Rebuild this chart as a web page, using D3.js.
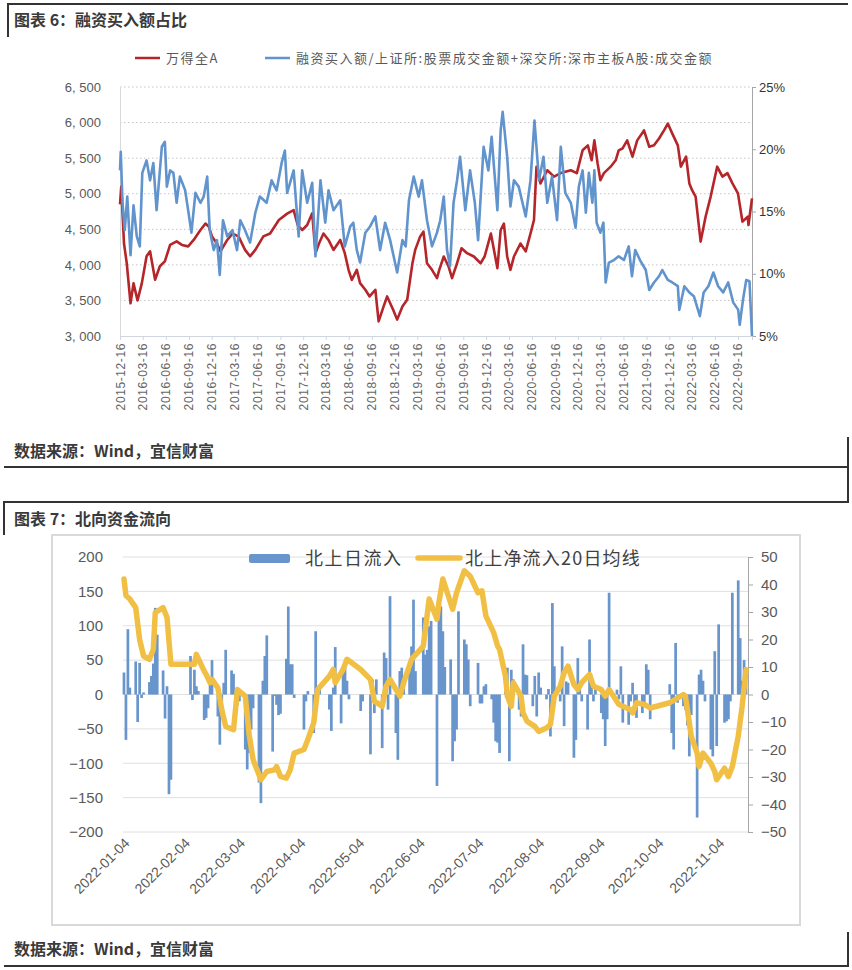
<!DOCTYPE html>
<html>
<head>
<meta charset="utf-8">
<script src="https://d3js.org/d3.v7.min.js"></script>
<style>
  body { margin: 0; background: #fff; }
  text { font-family: "Liberation Sans", "Noto Sans", sans-serif; }
  .cjk { font-family: "Noto Sans CJK SC", sans-serif; }
</style>
</head>
<body>
<svg id="chart" width="852" height="970"></svg>
<script>
/* globals d3: true */
(function() {
  'use strict';

  // ---------- 图表6 data ----------
  const wdaSeries = [
    ['2015-12-16', 4850], ['2015-12-21', 5100], ['2016-01-01', 4300], ['2016-01-12', 4020],
    ['2016-01-27', 3460], ['2016-02-08', 3740], ['2016-02-24', 3500], ['2016-03-12', 3740],
    ['2016-03-31', 4120], ['2016-04-14', 4190], ['2016-05-04', 3790], ['2016-05-23', 3980],
    ['2016-06-12', 4050], ['2016-07-03', 4280], ['2016-07-29', 4330], ['2016-08-19', 4280],
    ['2016-09-13', 4260], ['2016-10-05', 4350], ['2016-11-01', 4490], ['2016-11-21', 4580],
    ['2016-12-04', 4540], ['2016-12-17', 4400], ['2017-01-06', 4300], ['2017-01-20', 4190],
    ['2017-02-16', 4350], ['2017-03-09', 4440], ['2017-04-02', 4400], ['2017-04-28', 4210],
    ['2017-05-18', 4120], ['2017-06-08', 4210], ['2017-07-10', 4400], ['2017-08-06', 4440],
    ['2017-09-10', 4630], ['2017-10-13', 4720], ['2017-11-08', 4770], ['2017-11-24', 4560],
    ['2017-12-12', 4490], ['2018-01-01', 4560], ['2018-01-21', 4724], ['2018-02-03', 4164],
    ['2018-02-17', 4300], ['2018-03-07', 4440], ['2018-03-27', 4350], ['2018-04-16', 4210],
    ['2018-05-13', 4350], ['2018-05-31', 4164], ['2018-06-15', 3930], ['2018-06-28', 3790],
    ['2018-07-18', 3930], ['2018-07-31', 3743], ['2018-08-21', 3650], ['2018-09-07', 3556],
    ['2018-09-30', 3650], ['2018-10-13', 3205], ['2018-11-02', 3416], ['2018-11-16', 3556],
    ['2018-12-10', 3370], ['2018-12-26', 3230], ['2019-01-16', 3416], ['2019-02-04', 3510],
    ['2019-02-25', 4023], ['2019-03-08', 4210], ['2019-03-28', 4400], ['2019-04-10', 4467],
    ['2019-04-24', 4023], ['2019-05-14', 3930], ['2019-06-03', 3813], ['2019-06-12', 3930],
    ['2019-06-30', 4117], ['2019-07-19', 3977], ['2019-08-02', 3813], ['2019-08-22', 4023],
    ['2019-09-09', 4234], ['2019-10-01', 4164], ['2019-10-28', 4117], ['2019-11-24', 4023],
    ['2019-12-10', 4117], ['2020-01-04', 4440], ['2020-01-30', 3953], ['2020-02-12', 4490],
    ['2020-02-25', 4580], ['2020-03-09', 4117], ['2020-03-22', 3930], ['2020-04-05', 4117],
    ['2020-05-01', 4300], ['2020-05-22', 4190], ['2020-06-10', 4440], ['2020-06-24', 4630],
    ['2020-07-04', 5379], ['2020-07-20', 5145], ['2020-08-16', 5330], ['2020-09-12', 5240],
    ['2020-10-09', 5290], ['2020-11-18', 5330], ['2020-12-12', 5290], ['2021-01-04', 5610],
    ['2021-01-25', 5680], ['2021-02-09', 5470], ['2021-02-20', 5750], ['2021-03-05', 5425],
    ['2021-03-16', 5190], ['2021-03-30', 5290], ['2021-04-26', 5380], ['2021-05-16', 5470],
    ['2021-05-28', 5610], ['2021-06-12', 5635], ['2021-07-01', 5750], ['2021-07-22', 5520],
    ['2021-08-10', 5750], ['2021-09-06', 5890], ['2021-09-27', 5660], ['2021-10-16', 5680],
    ['2021-11-05', 5776], ['2021-11-25', 5890], ['2021-12-10', 5986], ['2021-12-28', 5845],
    ['2022-01-19', 5680], ['2022-01-31', 5380], ['2022-02-21', 5520], ['2022-03-06', 5145],
    ['2022-03-17', 5050], ['2022-03-31', 4960], ['2022-04-20', 4327], ['2022-05-10', 4680],
    ['2022-05-30', 4960], ['2022-06-25', 5380], ['2022-07-16', 5240], ['2022-08-05', 5290],
    ['2022-08-25', 5145], ['2022-09-16', 5005], ['2022-10-04', 4607], ['2022-10-25', 4677],
    ['2022-10-28', 4560], ['2022-11-11', 4935],
  ];

  // 融资买入额 / 成交金额, %
  const marginRatio = [
    ['2015-12-16', 18.3], ['2015-12-19', 19.8], ['2015-12-26', 15.7], ['2016-01-04', 13.5],
    ['2016-01-14', 16.2], ['2016-01-27', 11.5], ['2016-02-08', 15.5], ['2016-02-21', 13.0],
    ['2016-03-04', 12.2], ['2016-03-14', 18.1], ['2016-03-31', 19.1], ['2016-04-14', 17.5],
    ['2016-04-27', 18.9], ['2016-05-10', 15.1], ['2016-05-31', 20.2], ['2016-06-12', 20.6],
    ['2016-06-20', 17.0], ['2016-07-03', 18.3], ['2016-07-16', 18.1], ['2016-07-29', 15.7],
    ['2016-08-11', 17.8], ['2016-09-01', 16.7], ['2016-09-13', 15.1], ['2016-09-26', 13.3],
    ['2016-10-12', 16.5], ['2016-11-01', 15.7], ['2016-11-14', 16.2], ['2016-11-28', 17.8],
    ['2016-12-08', 13.5], ['2016-12-24', 11.9], ['2017-01-06', 12.7], ['2017-01-17', 9.9],
    ['2017-01-30', 14.3], ['2017-02-16', 13.0], ['2017-03-09', 13.5], ['2017-03-27', 11.9],
    ['2017-04-09', 14.3], ['2017-04-28', 13.5], ['2017-05-18', 12.5], ['2017-06-08', 14.9],
    ['2017-06-26', 16.2], ['2017-07-23', 15.7], ['2017-08-12', 17.5], ['2017-09-01', 16.7],
    ['2017-09-21', 18.9], ['2017-10-04', 19.9], ['2017-10-13', 16.5], ['2017-11-08', 18.3],
    ['2017-11-28', 13.0], ['2017-12-12', 18.3], ['2018-01-01', 15.7], ['2018-01-21', 17.3],
    ['2018-02-03', 11.4], ['2018-02-23', 17.5], ['2018-03-14', 14.1], ['2018-03-27', 16.7],
    ['2018-04-16', 15.1], ['2018-05-13', 15.9], ['2018-05-31', 12.2], ['2018-06-22', 13.8],
    ['2018-07-04', 14.1], ['2018-07-18', 11.9], ['2018-07-31', 10.9], ['2018-08-21', 13.3],
    ['2018-09-09', 13.8], ['2018-09-30', 14.6], ['2018-10-19', 11.9], ['2018-11-08', 14.1],
    ['2018-11-28', 12.7], ['2018-12-26', 10.1], ['2019-01-16', 12.7], ['2019-01-29', 12.2],
    ['2019-02-11', 15.9], ['2019-03-02', 17.8], ['2019-03-22', 16.2], ['2019-04-04', 17.5],
    ['2019-04-24', 14.3], ['2019-05-14', 12.2], ['2019-06-03', 13.3], ['2019-06-16', 14.3],
    ['2019-06-30', 16.2], ['2019-07-13', 11.9], ['2019-07-25', 10.6], ['2019-08-08', 15.7],
    ['2019-08-22', 17.5], ['2019-09-03', 19.4], ['2019-09-24', 15.1], ['2019-10-13', 18.3],
    ['2019-11-01', 15.7], ['2019-11-14', 12.7], ['2019-12-06', 20.2], ['2019-12-25', 18.3],
    ['2020-01-07', 21.0], ['2020-01-30', 15.1], ['2020-02-12', 21.5], ['2020-02-20', 23.0],
    ['2020-03-09', 19.4], ['2020-03-22', 15.4], ['2020-04-05', 17.5], ['2020-04-24', 17.0],
    ['2020-05-22', 14.6], ['2020-06-10', 17.5], ['2020-06-26', 22.3], ['2020-07-14', 17.5],
    ['2020-08-01', 19.4], ['2020-08-16', 15.7], ['2020-09-04', 17.8], ['2020-09-24', 14.3],
    ['2020-10-09', 20.2], ['2020-10-27', 16.5], ['2020-11-18', 15.7], ['2020-12-07', 13.7],
    ['2020-12-20', 17.0], ['2021-01-04', 18.3], ['2021-01-17', 14.9], ['2021-01-29', 18.1],
    ['2021-02-12', 15.7], ['2021-02-20', 18.3], ['2021-03-01', 14.1], ['2021-03-16', 13.3],
    ['2021-03-28', 14.1], ['2021-04-06', 9.3], ['2021-04-19', 10.9], ['2021-05-09', 11.1],
    ['2021-05-28', 11.4], ['2021-06-18', 11.1], ['2021-07-07', 12.2], ['2021-07-20', 9.8],
    ['2021-08-02', 11.9], ['2021-08-21', 11.1], ['2021-09-13', 10.3], ['2021-09-27', 8.7],
    ['2021-10-16', 9.3], ['2021-11-05', 9.8], ['2021-11-18', 10.3], ['2021-12-10', 9.5],
    ['2021-12-28', 9.3], ['2022-01-19', 9.0], ['2022-01-25', 7.1], ['2022-02-14', 9.0],
    ['2022-03-06', 8.5], ['2022-03-24', 8.2], ['2022-04-17', 6.6], ['2022-05-02', 8.5],
    ['2022-05-21', 9.0], ['2022-06-10', 10.1], ['2022-06-29', 9.0], ['2022-07-19', 8.5],
    ['2022-08-08', 9.3], ['2022-08-28', 7.7], ['2022-09-17', 7.1], ['2022-09-23', 5.9],
    ['2022-10-06', 7.9], ['2022-10-19', 9.5], ['2022-11-01', 9.4], ['2022-11-11', 5.0],
  ];

  const fig6Ticks = [
    '2015-12-16', '2016-03-16', '2016-06-16', '2016-09-16', '2016-12-16', '2017-03-16',
    '2017-06-16', '2017-09-16', '2017-12-16', '2018-03-16', '2018-06-16', '2018-09-16',
    '2018-12-16', '2019-03-16', '2019-06-16', '2019-09-16', '2019-12-16', '2020-03-16',
    '2020-06-16', '2020-09-16', '2020-12-16', '2021-03-16', '2021-06-16', '2021-09-16',
    '2021-12-16', '2022-03-16', '2022-06-16', '2022-09-16',
  ];
  const fig6LeftTicks = [3000, 3500, 4000, 4500, 5000, 5500, 6000, 6500];
  const fig6RightTicks = [5, 10, 15, 20, 25];

  // ---------- 图表7 data (2022, 亿元) ----------
  const northDaily = [
    ['01-04', 32], ['01-05', -66], ['01-06', 95], ['01-07', 10], ['01-10', 48], ['01-11', -40],
    ['01-12', 46], ['01-13', -5], ['01-14', 3], ['01-17', 18], ['01-18', 27], ['01-19', 45],
    ['01-20', 126], ['01-21', 87], ['01-24', 35], ['01-25', -35], ['01-26', 12], ['01-27', -145],
    ['01-28', -124], ['02-07', 56], ['02-08', -8], ['02-09', 36], ['02-10', 12], ['02-11', 5],
    ['02-14', -37], ['02-15', -34], ['02-16', -20], ['02-17', 17], ['02-18', 50], ['02-21', -32],
    ['02-22', -73], ['02-23', -10], ['02-24', 17], ['02-25', 65], ['02-28', 35], ['03-01', 30],
    ['03-02', -22], ['03-03', -15], ['03-04', -10], ['03-07', -80], ['03-08', -109], ['03-09', -85],
    ['03-10', -51], ['03-11', -20], ['03-14', -128], ['03-15', -158], ['03-16', 20], ['03-17', 56],
    ['03-18', 86], ['03-21', -83], ['03-22', -2], ['03-23', -15], ['03-24', -30], ['03-25', -28],
    ['03-28', 52], ['03-29', 128], ['03-30', 44], ['03-31', 44], ['04-01', -5], ['04-06', -51],
    ['04-07', -10], ['04-08', 5], ['04-11', -56], ['04-12', 92], ['04-13', 12], ['04-14', 12],
    ['04-19', -22], ['04-20', -53], ['04-21', 10], ['04-22', 69], ['04-25', -42], ['04-26', 34],
    ['04-27', 44], ['04-28', 20], ['04-29', -7], ['05-05', -24], ['05-06', -10], ['05-10', -87],
    ['05-11', 22], ['05-12', -27], ['05-13', 22], ['05-16', -78], ['05-17', 61], ['05-18', 53],
    ['05-19', -22], ['05-20', 143], ['05-23', -56], ['05-24', -95], ['05-25', 34], ['05-26', 39],
    ['05-27', 22], ['05-30', 32], ['05-31', 70], ['06-01', 138], ['06-02', 34], ['06-06', 112],
    ['06-07', 58], ['06-08', 65], ['06-09', 99], ['06-10', 107], ['06-13', -133], ['06-14', 121],
    ['06-15', 128], ['06-16', 92], ['06-17', 40], ['06-20', 51], ['06-21', -97], ['06-22', -68],
    ['06-23', -51], ['06-24', 121], ['06-27', 80], ['06-28', 73], ['06-29', 51], ['06-30', -17],
    ['07-04', 46], ['07-05', -13], ['07-06', -13], ['07-07', 12], ['07-08', 15], ['07-11', -7],
    ['07-12', -41], ['07-13', -68], ['07-14', -70], ['07-15', -85], ['07-18', 36], ['07-19', 39],
    ['07-20', -97], ['07-21', 36], ['07-22', 22], ['07-25', -22], ['07-26', -32], ['07-27', 73],
    ['07-28', 29], ['07-29', 28], ['08-01', -17], ['08-02', 27], ['08-03', -32], ['08-04', 32],
    ['08-05', 10], ['08-08', -7], ['08-09', 8], ['08-10', -61], ['08-11', 133], ['08-12', 41],
    ['08-15', -10], ['08-16', 70], ['08-17', -46], ['08-18', 19], ['08-19', 17], ['08-22', -92],
    ['08-23', -66], ['08-24', 53], ['08-25', 17], ['08-26', -10], ['08-29', -51], ['08-30', 80],
    ['08-31', 22], ['09-01', -10], ['09-02', 10], ['09-05', -27], ['09-06', -36], ['09-07', -75],
    ['09-08', -36], ['09-09', 148], ['09-13', 7], ['09-14', -7], ['09-15', 41], ['09-16', -41],
    ['09-19', -44], ['09-20', -10], ['09-21', 17], ['09-22', -17], ['09-23', -34], ['09-26', -27],
    ['09-27', -17], ['09-28', 44], ['09-29', 36], ['09-30', -36], ['10-10', 15], ['10-11', -56],
    ['10-12', -80], ['10-13', 75], ['10-14', -12], ['10-17', -17], ['10-18', -22], ['10-19', -45],
    ['10-20', -90], ['10-21', -30], ['10-24', -179], ['10-25', 29], ['10-26', 36], ['10-27', 20],
    ['10-28', -10], ['10-31', -80], ['11-01', -90], ['11-02', 63], ['11-03', -75], ['11-04', 102],
    ['11-07', -41], ['11-08', -39], ['11-09', -36], ['11-10', -10], ['11-11', 148], ['11-14', 166],
    ['11-15', 82], ['11-16', 20], ['11-17', 50], ['11-18', 30],
  ];

  const northMA20 = [
    ['01-04', 42], ['01-05', 36], ['01-07', 34.7], ['01-10', 31.6], ['01-12', 20], ['01-14', 14],
    ['01-17', 12.8], ['01-19', 16.4], ['01-20', 29.8], ['01-24', 31.6], ['01-26', 28], ['01-28', 11],
    ['02-07', 11], ['02-09', 11], ['02-10', 14.6], ['02-14', 8.5], ['02-15', 7.3], ['02-17', 4.3],
    ['02-18', 5.5], ['02-21', 2.4], ['02-23', -5.5], ['02-25', -11.6], ['03-01', -12.8], ['03-03', 1.8],
    ['03-07', -0.6], ['03-09', -14.6], ['03-11', -23.7], ['03-15', -31], ['03-18', -28], ['03-22', -27.4],
    ['03-23', -26.2], ['03-25', -29.8], ['03-28', -30.4], ['03-30', -27.4], ['04-01', -21.3], ['04-06', -20],
    ['04-08', -16.4], ['04-11', -10.3], ['04-13', 1.8], ['04-19', 6.7], ['04-21', 9.1], ['04-22', 4.3],
    ['04-26', 9.1], ['04-28', 12.8], ['05-05', 9.1], ['05-10', 5.5], ['05-12', -2.4], ['05-16', -4.3],
    ['05-18', 3], ['05-20', 5.5], ['05-25', -0.6], ['05-27', 4.3], ['05-31', 12.8], ['06-06', 17.6],
    ['06-09', 34.7], ['06-13', 27.4], ['06-14', 33.5], ['06-16', 42], ['06-21', 31], ['06-23', 37],
    ['06-27', 45], ['06-30', 43], ['07-04', 37], ['07-06', 37.7], ['07-08', 28.6], ['07-12', 22.5],
    ['07-14', 17.6], ['07-15', 16.4], ['07-18', 6.7], ['07-19', -0.6], ['07-21', -4.3], ['07-22', 4.3],
    ['07-26', -0.6], ['07-27', -6.7], ['07-29', -9.7], ['08-02', -11.6], ['08-04', -13.4], ['08-08', -12.2],
    ['08-10', -10.9], ['08-12', -0.6], ['08-15', 3], ['08-17', 7.9], ['08-19', 10.3], ['08-22', 3.6],
    ['08-24', 1.8], ['08-26', 4.3], ['08-30', 7.3], ['09-01', 3], ['09-05', 1.8], ['09-07', -0.6],
    ['09-09', 1.8], ['09-14', -3.6], ['09-16', -4.3], ['09-20', -5.5], ['09-21', -6.7], ['09-23', -3],
    ['09-27', -3.6], ['09-30', -4.9], ['10-10', -3], ['10-17', 0], ['10-18', -0.6], ['10-20', -10.3],
    ['10-21', -15.2], ['10-24', -21.3], ['10-25', -26.2], ['10-27', -21.3], ['10-31', -25], ['11-02', -28],
    ['11-03', -31], ['11-07', -26.8], ['11-09', -29.8], ['11-11', -26.2], ['11-14', -15.2], ['11-16', -4.3],
    ['11-18', 9.1],
  ];

  const fig7Ticks = [
    '2022-01-04', '2022-02-04', '2022-03-04', '2022-04-04', '2022-05-04', '2022-06-04',
    '2022-07-04', '2022-08-04', '2022-09-04', '2022-10-04', '2022-11-04',
  ];
  const fig7LeftTicks = [-200, -150, -100, -50, 0, 50, 100, 150, 200];
  const fig7RightTicks = [-50, -40, -30, -20, -10, 0, 10, 20, 30, 40, 50];

  const parse = d3.timeParse('%Y-%m-%d');
  const svg = d3.select('#chart');

  const red = '#b5262a';
  const blue = '#6193cd';
  const barBlue = '#6895cb';
  const gold = '#f2bf45';
  const axisGrey = '#595959';

  // ---------- frames and titles ----------
  const frame = svg.append('g')
      .attr('fill', 'none')
      .attr('stroke', '#333')
      .attr('stroke-width', 2);
  frame.append('path').attr('d', 'M8,37V4H848');
  frame.append('path').attr('d', 'M848,437V467H4');
  frame.append('path').attr('d', 'M848,467V502H4V535');
  frame.append('path').attr('d', 'M848,932V966H4');

  const titles = [
    ['图表 6：融资买入额占比', 26],
    ['数据来源：Wind，宜信财富', 457],
    ['图表 7：北向资金流向', 525],
    ['数据来源：Wind，宜信财富', 955],
  ];
  svg.selectAll('text.title')
      .data(titles)
      .join('text')
      .attr('class', 'title cjk')
      .attr('x', 14)
      .attr('y', (d) => d[1])
      .attr('font-size', 16)
      .attr('font-weight', 700)
      .attr('fill', '#3a3a3a')
      .text((d) => d[0]);

  // ---------- 图表6 ----------
  const g6 = svg.append('g');
  const x6 = d3.scaleTime()
      .domain([parse('2015-12-16'), parse('2022-11-11')])
      .range([120, 752]);
  const yL6 = d3.scaleLinear().domain([3000, 6500]).range([336, 87]);
  const yR6 = d3.scaleLinear().domain([5, 25]).range([336, 87]);

  g6.append('g')
      .selectAll('line')
      .data(fig6LeftTicks.slice(1))
      .join('line')
      .attr('x1', 120).attr('x2', 752)
      .attr('y1', (d) => yL6(d)).attr('y2', (d) => yL6(d))
      .attr('stroke', '#c4c4c4')
      .attr('stroke-dasharray', '1.5,2.5');

  const leftAxis6 = g6.append('g')
      .attr('transform', 'translate(120,0)')
      .call(d3.axisLeft(yL6).tickValues(fig6LeftTicks).tickSize(0).tickPadding(19)
          .tickFormat((d) => d3.format(',')(d).replace(',', ', ')));
  leftAxis6.select('.domain').attr('stroke', '#d9d9d9');
  leftAxis6.selectAll('text').attr('font-size', 13).attr('fill', axisGrey)
      .attr('font-family', 'Liberation Sans');

  const rightAxis6 = g6.append('g')
      .attr('transform', 'translate(752,0)')
      .call(d3.axisRight(yR6).tickValues(fig6RightTicks).tickSize(4).tickPadding(3)
          .tickFormat((d) => d + '%'));
  rightAxis6.selectAll('.domain, line').attr('stroke', '#a6a6a6');
  rightAxis6.selectAll('text').attr('font-size', 13).attr('fill', '#333')
      .attr('font-family', 'Liberation Sans');

  const bottomAxis6 = g6.append('g')
      .attr('transform', 'translate(0,336)')
      .call(d3.axisBottom(x6).tickValues(fig6Ticks.map(parse)).tickSize(4)
          .tickFormat(d3.timeFormat('%Y-%m-%d')));
  bottomAxis6.selectAll('.domain, line').attr('stroke', '#cfd6e0');
  bottomAxis6.selectAll('text')
      .attr('font-size', 12)
      .attr('letter-spacing', 0.6)
      .attr('fill', '#666')
      .attr('font-family', 'Liberation Sans')
      .attr('text-anchor', 'end')
      .attr('dy', null)
      .attr('y', 0)
      .attr('transform', 'translate(4,7) rotate(-90)');

  const lineL6 = d3.line()
      .x((d) => x6(parse(d[0])))
      .y((d) => yL6(d[1]));
  const lineR6 = d3.line()
      .x((d) => x6(parse(d[0])))
      .y((d) => yR6(d[1]));

  g6.append('path')
      .datum(wdaSeries)
      .attr('fill', 'none')
      .attr('stroke', red)
      .attr('stroke-width', 2.6)
      .attr('stroke-linejoin', 'round')
      .attr('d', lineL6);

  g6.append('path')
      .datum(marginRatio)
      .attr('fill', 'none')
      .attr('stroke', blue)
      .attr('stroke-width', 2.6)
      .attr('stroke-linejoin', 'round')
      .attr('d', lineR6);

  const legend6 = [
    {name: '万得全A', color: red, x: 135},
    {name: '融资买入额/上证所:股票成交金额+深交所:深市主板A股:成交金额', color: blue, x: 265},
  ];
  const lg6 = g6.append('g').selectAll('g').data(legend6).join('g')
      .attr('transform', (d) => 'translate(' + d.x + ',58)');
  lg6.append('line').attr('x1', 0).attr('x2', 25)
      .attr('stroke', (d) => d.color).attr('stroke-width', 2.5);
  lg6.append('text')
      .attr('class', 'cjk')
      .attr('x', 31).attr('dy', '0.35em')
      .attr('font-size', 13)
      .attr('letter-spacing', 1.5)
      .attr('fill', axisGrey)
      .text((d) => d.name);

  // ---------- 图表7 ----------
  const g7 = svg.append('g');
  g7.append('rect')
      .attr('x', 52).attr('y', 535).attr('width', 748).attr('height', 390)
      .attr('fill', '#fff').attr('stroke', '#d9d9d9').attr('stroke-width', 2);

  const x7 = d3.scaleTime()
      .domain([new Date(2022, 0, 3, 12), new Date(2022, 10, 19)])
      .range([123, 748]);
  const yL7 = d3.scaleLinear().domain([-200, 200]).range([832, 557]);
  const yR7 = d3.scaleLinear().domain([-50, 50]).range([832, 557]);
  const day = (s) => parse('2022-' + s);

  g7.append('g')
      .selectAll('line')
      .data(fig7LeftTicks)
      .join('line')
      .attr('x1', 123).attr('x2', 748)
      .attr('y1', (d) => yL7(d)).attr('y2', (d) => yL7(d))
      .attr('stroke', '#e0e0e0');

  const leftAxis7 = g7.append('g')
      .attr('transform', 'translate(123,0)')
      .call(d3.axisLeft(yL7).tickValues(fig7LeftTicks).tickSize(0).tickPadding(20));
  leftAxis7.select('.domain').remove();
  leftAxis7.selectAll('text').attr('font-size', 15).attr('fill', axisGrey)
      .attr('font-family', 'Noto Sans');

  const rightAxis7 = g7.append('g')
      .attr('transform', 'translate(748,0)')
      .call(d3.axisRight(yR7).tickValues(fig7RightTicks).tickSize(5).tickPadding(8));
  rightAxis7.selectAll('.domain, line').attr('stroke', '#a6a6a6');
  rightAxis7.selectAll('text').attr('font-size', 15).attr('fill', axisGrey)
      .attr('font-family', 'Noto Sans');

  const bottomAxis7 = g7.append('g')
      .attr('transform', 'translate(0,832)')
      .call(d3.axisBottom(x7).tickValues(fig7Ticks.map(parse)).tickSize(0)
          .tickFormat(d3.timeFormat('%Y-%m-%d')));
  bottomAxis7.select('.domain').remove();
  bottomAxis7.selectAll('text')
      .attr('font-size', 14)
      .attr('fill', axisGrey)
      .attr('font-family', 'Noto Sans')
      .attr('text-anchor', 'end')
      .attr('dy', null)
      .attr('y', 0)
      .attr('transform', 'translate(6,12) rotate(-45)');

  const bw = 2.7;
  g7.append('g')
      .selectAll('rect')
      .data(northDaily)
      .join('rect')
      .attr('x', (d) => x7(day(d[0])) - bw / 2)
      .attr('width', bw)
      .attr('y', (d) => yL7(Math.max(0, d[1])))
      .attr('height', (d) => Math.abs(yL7(d[1]) - yL7(0)))
      .attr('fill', barBlue);

  g7.append('path')
      .datum(northMA20)
      .attr('fill', 'none')
      .attr('stroke', gold)
      .attr('stroke-width', 5.5)
      .attr('stroke-linejoin', 'round')
      .attr('stroke-linecap', 'round')
      .attr('d', d3.line()
          .x((d) => x7(day(d[0])))
          .y((d) => yR7(d[1])));

  // legend
  const lg7 = g7.append('g');
  lg7.append('rect')
      .attr('x', 249).attr('y', 554).attr('width', 41).attr('height', 9).attr('rx', 2)
      .attr('fill', barBlue);
  lg7.append('text')
      .attr('class', 'cjk')
      .attr('x', 305).attr('y', 559).attr('dy', '0.35em')
      .attr('font-size', 18).attr('letter-spacing', 1.5).attr('fill', '#404040')
      .text('北上日流入');
  lg7.append('line')
      .attr('x1', 418).attr('x2', 460).attr('y1', 558).attr('y2', 558)
      .attr('stroke', gold).attr('stroke-width', 5.5).attr('stroke-linecap', 'round');
  lg7.append('text')
      .attr('class', 'cjk')
      .attr('x', 465).attr('y', 559).attr('dy', '0.35em')
      .attr('font-size', 18).attr('letter-spacing', 1.2).attr('fill', '#404040')
      .text('北上净流入20日均线');
})();
</script>
</body>
</html>
